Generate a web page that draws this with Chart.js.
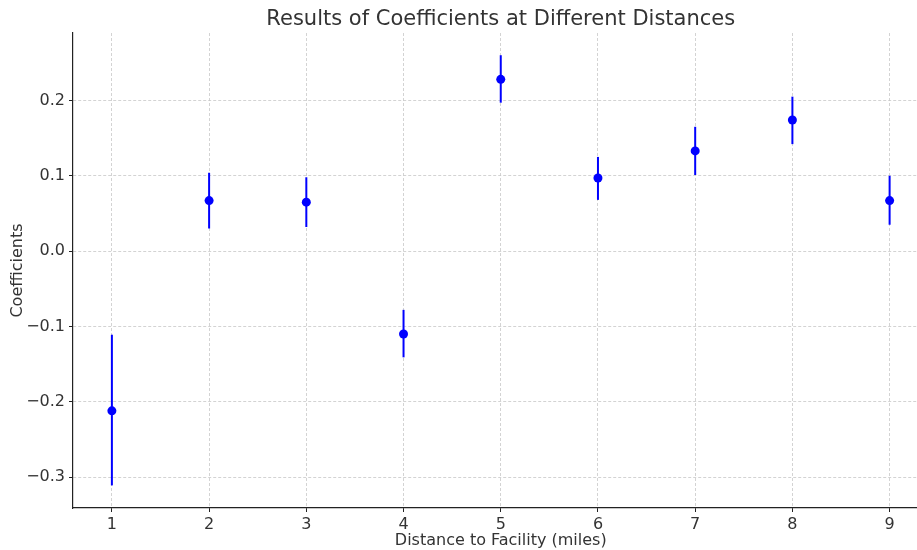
<!DOCTYPE html>
<html>
<head>
<meta charset="utf-8">
<script src="https://cdn.jsdelivr.net/npm/chart.js@4.4.1/dist/chart.umd.min.js"></script>
<style>
    html, body { margin: 0; padding: 0; background: #fff; }
    #frame { width: 917px; height: 550px; overflow: hidden; position: relative; }
    #wrap { width: 933px; height: 550px; position: relative; }
</style>
</head>
<body>
<div id="frame"><div id="wrap"><canvas id="coefChart"></canvas></div></div>
<script>
const distances = [1, 2, 3, 4, 5, 6, 7, 8, 9];
const coefficients = [-0.212, 0.067, 0.065, -0.110, 0.228, 0.097, 0.133, 0.174, 0.067];
const errLow = [-0.311, 0.030, 0.032, -0.141, 0.197, 0.068, 0.101, 0.142, 0.035];
const errHigh = [-0.111, 0.104, 0.098, -0.078, 0.260, 0.125, 0.165, 0.205, 0.100];
const xTicks = [1, 2, 3, 4, 5, 6, 7, 8, 9];
const yTicks = [-0.3, -0.2, -0.1, 0.0, 0.1, 0.2];

const FONT = "'DejaVu Sans', sans-serif";
const TEXT = '#333333';

// vertical error bars, drawn under the points
const errorBars = {
    id: 'errorBars',
    beforeDatasetsDraw(chart) {
        const { ctx, scales: { x, y } } = chart;
        ctx.save();
        ctx.strokeStyle = '#0000ff';
        ctx.lineWidth = 2;
        distances.forEach((d, i) => {
            const px = x.getPixelForValue(d);
            ctx.beginPath();
            ctx.moveTo(px, y.getPixelForValue(errLow[i]));
            ctx.lineTo(px, y.getPixelForValue(errHigh[i]));
            ctx.stroke();
        });
        ctx.restore();
    }
};

// title centred over the plot area
const plotTitle = {
    id: 'plotTitle',
    afterDraw(chart) {
        const { ctx, chartArea } = chart;
        ctx.save();
        ctx.font = '21px ' + FONT;
        ctx.fillStyle = TEXT;
        ctx.textAlign = 'center';
        ctx.textBaseline = 'middle';
        ctx.fillText('Results of Coefficients at Different Distances', (chartArea.left + chartArea.right) / 2, 20);
        ctx.restore();
    }
};

const fmt = v => {
    const s = Math.abs(v).toFixed(1);
    return v < -1e-9 ? '\u2212' + s : s;
};

new Chart(document.getElementById('coefChart').getContext('2d'), {
    type: 'scatter',
    data: {
        datasets: [{
            label: 'Coefficient',
            data: distances.map((d, i) => ({ x: d, y: coefficients[i] })),
            backgroundColor: '#0000ff',
            borderColor: '#0000ff',
            pointRadius: 4.5,
            pointHoverRadius: 4.5,
            borderWidth: 0
        }]
    },
    options: {
        responsive: true,
        maintainAspectRatio: false,
        animation: false,
        layout: { padding: { top: 33, right: 1, left: 0, bottom: 0 } },
        plugins: {
            legend: { display: false },
            tooltip: { enabled: false }
        },
        scales: {
            x: {
                type: 'linear',
                min: 0.6,
                max: 9.4,
                afterBuildTicks: s => { s.ticks = xTicks.map(v => ({ value: v })); },
                afterFit: s => { s.height = 42; },
                grid: { color: '#c8c8c8', lineWidth: 0.8, tickColor: '#222', tickWidth: 1, tickLength: 4 },
                border: { display: true, color: '#222', width: 1.2, dash: [3, 2] },
                ticks: { color: TEXT, font: { family: FONT, size: 16 }, padding: 3, maxRotation: 0 },
                title: { display: true, text: 'Distance to Facility (miles)', color: TEXT, font: { family: FONT, size: 16 }, padding: { top: 0, bottom: 0 } }
            },
            y: {
                min: -0.341,
                max: 0.2895,
                afterBuildTicks: s => { s.ticks = yTicks.map(v => ({ value: v })); },
                afterFit: s => { s.width = 73; },
                grid: { color: '#c8c8c8', lineWidth: 0.8, tickColor: '#222', tickWidth: 1, tickLength: 4 },
                border: { display: true, color: '#222', width: 1.2, dash: [3, 2] },
                ticks: { color: TEXT, font: { family: FONT, size: 16 }, padding: 4, callback: v => fmt(v) },
                title: { display: true, text: 'Coefficients', color: TEXT, font: { family: FONT, size: 16 }, padding: { top: 8, bottom: 0 } }
            }
        }
    },
    plugins: [errorBars, plotTitle]
});
</script>
</body>
</html>
